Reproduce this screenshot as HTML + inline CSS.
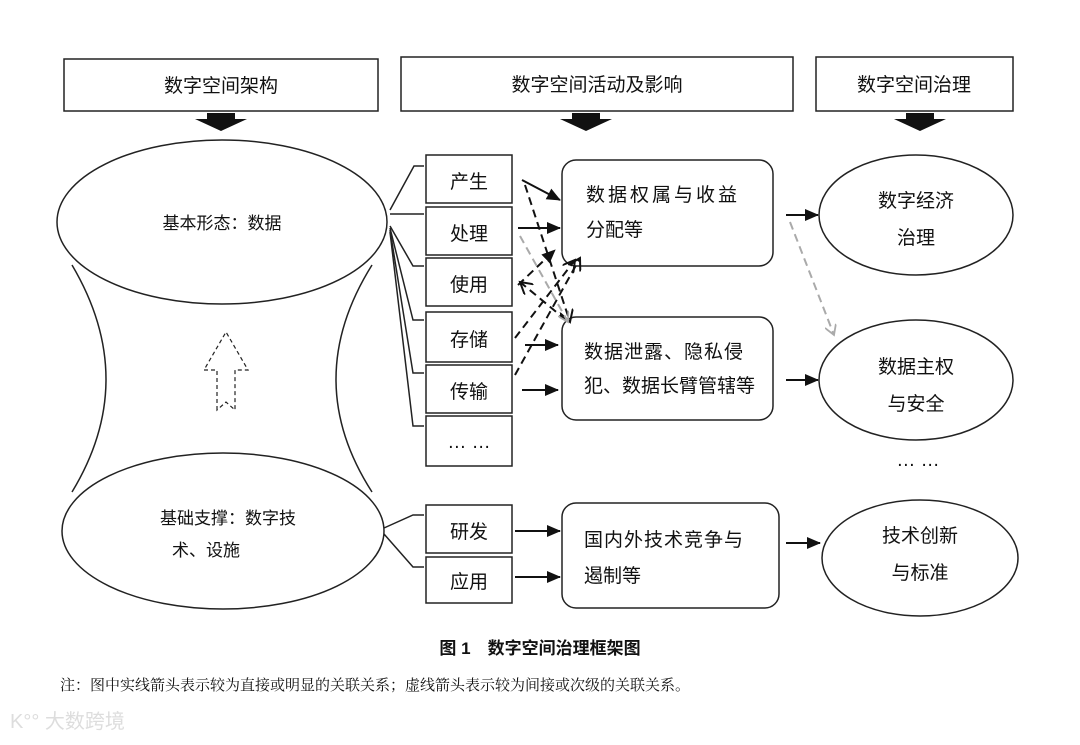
<!DOCTYPE html>
<html><head><meta charset="utf-8"><style>
body{margin:0;background:#fff}
svg text{font-family:"Liberation Sans","Noto Sans CJK SC",sans-serif;fill:#111}
</style></head><body>
<svg width="1080" height="740" viewBox="0 0 1080 740" xmlns="http://www.w3.org/2000/svg">
<defs>
<marker id="a" markerWidth="14" markerHeight="12" refX="13" refY="6" orient="auto" markerUnits="userSpaceOnUse"><path d="M0,0 L14,6 L0,12 Z" fill="#111"/></marker>
<marker id="g" markerWidth="12" markerHeight="12" refX="10" refY="6" orient="auto" markerUnits="userSpaceOnUse"><path d="M0,0 L10,6 L0,12" fill="none" stroke="#aaa" stroke-width="1.8"/></marker>
<marker id="o" markerWidth="14" markerHeight="14" refX="12" refY="7" orient="auto" markerUnits="userSpaceOnUse"><path d="M0,0 L12,7 L0,14" fill="none" stroke="#111" stroke-width="2"/></marker>
</defs>
<g fill="#fff" stroke="#222" stroke-width="1.5">
<rect x="64" y="59" width="314" height="52"/>
<rect x="401" y="57" width="392" height="54"/>
<rect x="816" y="57" width="197" height="54"/>
</g>
<g font-size="19" text-anchor="middle">
<text x="221" y="92">数字空间架构</text>
<text x="597" y="91">数字空间活动及影响</text>
<text x="914" y="91">数字空间治理</text>
</g>
<g fill="#111">
<path d="M207,113 h28 v6 h12 l-26,12 l-26,-12 h12z"/>
<path d="M572,113 h28 v6 h12 l-26,12 l-26,-12 h12z"/>
<path d="M906,113 h28 v6 h12 l-26,12 l-26,-12 h12z"/>
</g>
<g fill="none" stroke="#222" stroke-width="1.5">
<path d="M72,265 Q140,380 72,492"/>
<path d="M372,265 Q300,380 372,492"/>
<ellipse cx="222" cy="222" rx="165" ry="82" fill="#fff"/>
<ellipse cx="223" cy="531" rx="161" ry="78" fill="#fff"/>
<path d="M217,410 v-40 h-13 l22,-38 l22,38 h-13 v40 l-9,-8z" stroke-dasharray="4,3" stroke-width="1.2"/>
</g>
<g font-size="17" text-anchor="middle">
<text x="222" y="229">基本形态：数据</text>
<text x="228" y="524">基础支撑：数字技</text>
<text x="206" y="556">术、设施</text>
</g>
<g fill="none" stroke="#222" stroke-width="1.5">
<path d="M390,210 L414,166 H424"/>
<path d="M390,214 H424"/>
<path d="M390,226 L413,266 H424"/>
<path d="M390,228 L413,320 H424"/>
<path d="M390,230 L413,373 H424"/>
<path d="M390,232 L413,426 H424"/>
<path d="M384,528 L413,515 H424"/>
<path d="M384,534 L413,567 H424"/>
</g>
<g fill="#fff" stroke="#222" stroke-width="1.5">
<rect x="426" y="155" width="86" height="48"/>
<rect x="426" y="207" width="86" height="48"/>
<rect x="426" y="258" width="86" height="48"/>
<rect x="426" y="312" width="86" height="50"/>
<rect x="426" y="365" width="86" height="48"/>
<rect x="426" y="416" width="86" height="50"/>
<rect x="426" y="505" width="86" height="48"/>
<rect x="426" y="557" width="86" height="46"/>
<rect x="562" y="160" width="211" height="106" rx="14"/>
<rect x="562" y="317" width="211" height="103" rx="14"/>
<rect x="562" y="503" width="217" height="105" rx="14"/>
<ellipse cx="916" cy="215" rx="97" ry="60"/>
<ellipse cx="916" cy="380" rx="97" ry="60"/>
<ellipse cx="920" cy="558" rx="98" ry="58"/>
</g>
<g font-size="19" text-anchor="middle">
<text x="469" y="188">产生</text>
<text x="469" y="240">处理</text>
<text x="469" y="291">使用</text>
<text x="469" y="346">存储</text>
<text x="469" y="398">传输</text>
<text x="469" y="448">… …</text>
<text x="469" y="538">研发</text>
<text x="469" y="588">应用</text>
<text x="916" y="207">数字经济</text>
<text x="916" y="244">治理</text>
<text x="916" y="373">数据主权</text>
<text x="916" y="410">与安全</text>
<text x="920" y="542">技术创新</text>
<text x="920" y="579">与标准</text>
<text x="918" y="466">… …</text>
</g>
<g font-size="19">
<text x="586" y="201" letter-spacing="3">数据权属与收益</text>
<text x="586" y="236">分配等</text>
<text x="584" y="358" letter-spacing="1">数据泄露、隐私侵</text>
<text x="584" y="392">犯、数据长臂管辖等</text>
<text x="584" y="546" letter-spacing="1">国内外技术竞争与</text>
<text x="584" y="582">遏制等</text>
</g>
<g stroke="#111" stroke-width="2" fill="none" marker-end="url(#a)">
<line x1="522" y1="180" x2="560" y2="200"/>
<line x1="518" y1="228" x2="560" y2="228"/>
<line x1="525" y1="345" x2="558" y2="345"/>
<line x1="522" y1="390" x2="558" y2="390"/>
<line x1="786" y1="215" x2="818" y2="215"/>
<line x1="786" y1="380" x2="818" y2="380"/>
<line x1="786" y1="543" x2="820" y2="543"/>
<line x1="515" y1="531" x2="560" y2="531"/>
<line x1="515" y1="577" x2="560" y2="577"/>
</g>
<g stroke="#111" stroke-width="2" fill="none" stroke-dasharray="8,5">
<line x1="525" y1="185" x2="570" y2="322" marker-end="url(#o)"/>
<line x1="518" y1="285" x2="555" y2="250" marker-end="url(#a)"/>
<line x1="566" y1="320" x2="520" y2="282" marker-end="url(#o)"/>
<line x1="515" y1="338" x2="575" y2="260" marker-end="url(#o)"/>
<line x1="515" y1="375" x2="580" y2="258" marker-end="url(#o)"/>
</g>
<g stroke="#aaa" stroke-width="2" fill="none" stroke-dasharray="8,5" marker-end="url(#g)">
<line x1="520" y1="236" x2="568" y2="322"/>
<line x1="790" y1="222" x2="834" y2="335"/>
</g>
<text x="540" y="654" font-size="17" font-weight="bold" text-anchor="middle">图 1　数字空间治理框架图</text>
<text x="60" y="690" font-size="15" style="font-family:'Liberation Serif','Noto Serif CJK SC',serif">注：图中实线箭头表示较为直接或明显的关联关系；虚线箭头表示较为间接或次级的关联关系。</text>
<text x="10" y="728" font-size="20" style="fill:#ddd">K°° 大数跨境</text>
</svg>
</body></html>
